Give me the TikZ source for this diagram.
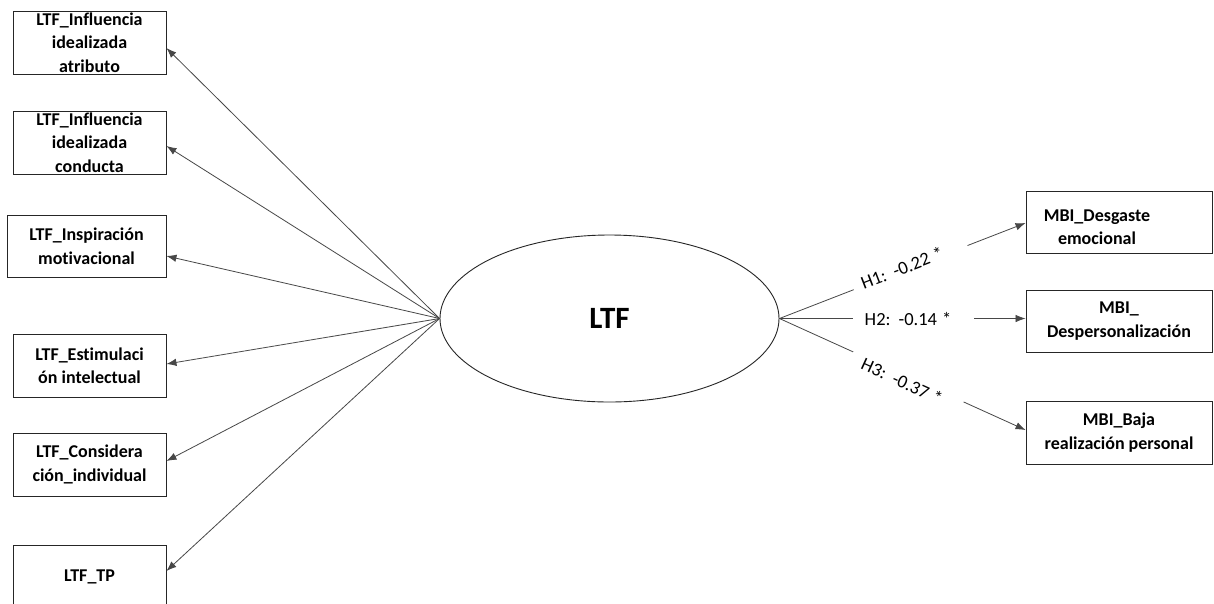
\documentclass[tikz,border=0pt]{standalone}
\usepackage{fontspec}
\setmainfont{Carlito}[Ligatures=NoCommon]
\usetikzlibrary{arrows.meta,shapes.geometric}
\begin{document}
\begin{tikzpicture}[x=1pt,y=-1pt,
  boxtext/.style={inner sep=0pt, align=center, font=\fontsize{18}{23.5}\selectfont\bfseries},
  box/.style={boxtext, draw=black!85, line width=0.9pt, rectangle, minimum width=153pt, minimum height=63pt},
  conn/.style={draw=black!72, line width=0.8pt, -{Latex[length=10pt,width=7.5pt]}},
  hlab/.style={font=\fontsize{18.5}{21}\selectfont, inner sep=1pt},
  gap/.style={fill=white, inner sep=0pt, minimum height=5pt, sloped}
]
\useasboundingbox (0,0) rectangle (1214,603);
\clip (0,0) rectangle (1214,603);
\fill[white] (0,0) rectangle (1214,603);

% left indicator boxes
\node[box] (b1) at (89.5,42.5) {LTF\_Influencia\\idealizada\\atributo};
\node[box] (b2) at (89.5,142.5) {LTF\_Influencia\\idealizada\\conducta};
\node[box, minimum width=159pt, minimum height=62pt] (b3) at (86.5,246) {LTF\_Inspiración\\motivacional};
\node[box] (b4) at (89.5,365.5) {LTF\_Estimulaci\\ón intelectual};
\node[box] (b5) at (89.5,464.5) {LTF\_Considera\\ción\_individual};
\node[box] (b6) at (89.5,576.5) {LTF\_TP};

% latent construct
\node[ellipse, draw=black!85, line width=0.9pt, minimum width=339pt, minimum height=167pt,
      inner sep=0pt, font=\fontsize{31}{36}\selectfont\bfseries] (ltf) at (609.5,318.5) {LTF};

% right outcome boxes
\node[box, minimum width=186pt, minimum height=62pt] (r1) at (1119,222) {};
\node[boxtext] (r1t) at (1097,227) {MBI\_Desgaste\\emocional};
\node[box, minimum width=186pt, minimum height=62pt] (r2) at (1119,321) {MBI\_\\Despersonalización};
\node[box, minimum width=186pt, minimum height=63pt] (r3) at (1119,432.5) {MBI\_Baja\\realización\hspace{4pt}personal};

% loadings
\draw[conn] (ltf.west) -- ([yshift=-5.5pt]b1.east);
\draw[conn] (ltf.west) -- ([yshift=-3.5pt]b2.east);
\draw[conn] (ltf.west) -- ([yshift=-10pt]b3.east);
\draw[conn] (ltf.west) -- ([yshift=1.5pt]b4.east);
\draw[conn] (ltf.west) -- ([yshift=3.5pt]b5.east);
\draw[conn] (ltf.west) -- ([yshift=5.5pt]b6.east);

% structural paths
\draw[conn] (ltf.east) -- node[gap, pos=0.533, minimum width=122pt] (g1) {} ([yshift=-1pt]r1.west);
\draw[conn] (ltf.east) -- node[gap, pos=0.543, minimum width=121pt] (g2) {} (ltf.east -| r2.west);
\draw[conn] (ltf.east) -- node[gap, pos=0.524, minimum width=121pt] (g3) {} ([yshift=2.5pt]r3.west);

\node[hlab, rotate=21.1] (h1) at (902,268) {H1:\hspace{8pt}-0.22\hspace{5pt}*};
\node[hlab] (h2) at (908,318.5) {H2:\hspace{8pt}-0.14\hspace{5pt}*};
\node[hlab, rotate=-24.5] (h3) at (902,381) {H3:\hspace{8pt}-0.37\hspace{5pt}*};
\end{tikzpicture}
\end{document}
